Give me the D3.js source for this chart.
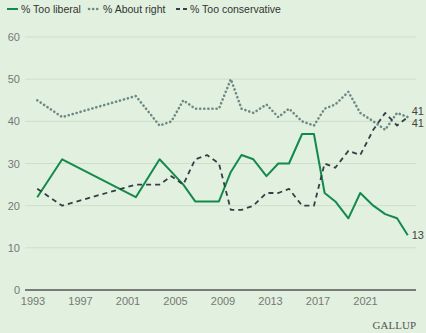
<!DOCTYPE html>
<html>
<head>
<meta charset="utf-8">
<script src="https://cdn.jsdelivr.net/npm/d3@7"></script>
<style>
  body { margin: 0; background: #e2f0df; }
  svg { display: block; font-family: "Liberation Sans", Arial, sans-serif; }
</style>
</head>
<body>
<div id="chart"></div>
<script>
// data (survey dates as decimal years)
var years = [1993.4, 1995.5, 2001.7, 2003.7, 2004.7, 2005.7, 2006.7, 2007.7, 2008.7, 2009.7,
    2010.6, 2011.6, 2012.7, 2013.7, 2014.6, 2015.7, 2016.7, 2017.6, 2018.5, 2019.6,
    2020.6, 2021.7, 2022.7, 2023.7, 2024.6];
var tooLiberal = [22, 31, 22, 31, 28, 25, 21, 21, 21, 28, 32, 31, 27, 30, 30, 37, 37, 23, 21, 17, 23, 20, 18, 17, 13];
var aboutRight = [45, 41, 46, 39, 40, 45, 43, 43, 43, 50, 43, 42, 44, 41, 43, 40, 39, 43, 44, 47, 42, 40, 38, 42, 41];
var tooConservative = [24, 20, 25, 25, 27, 25, 31, 32, 30, 19, 19, 20, 23, 23, 24, 20, 20, 30, 29, 33, 32, 38, 42, 39, 41];
var yTicks = [0, 10, 20, 30, 40, 50, 60];
var xTicks = [1993, 1997, 2001, 2005, 2009, 2013, 2017, 2021];

var svgWidth = 426;
var svgHeight = 333;

var margin = { top: 37, right: 10, bottom: 43, left: 25 };
var gridRight = 416;

var svg = d3.select("#chart")
    .append("svg")
    .attr("width", svgWidth)
    .attr("height", svgHeight);

svg.append("rect")
    .attr("width", svgWidth)
    .attr("height", svgHeight)
    .attr("fill", "#e2f0df");

// scales
var xScale = d3.scaleLinear()
    .domain([1993, 2021])
    .range([32.5, 365]);

var yScale = d3.scaleLinear()
    .domain([0, 60])
    .range([290, 37]);

// gridlines + y labels
svg.append("g")
    .selectAll("line")
    .data(yTicks.filter(d => d > 0))
    .enter()
    .append("line")
    .attr("x1", margin.left)
    .attr("x2", gridRight)
    .attr("y1", d => yScale(d))
    .attr("y2", d => yScale(d))
    .attr("stroke", "#cddfca")
    .attr("stroke-width", 1);

svg.append("g")
    .selectAll("text")
    .data(yTicks)
    .enter()
    .append("text")
    .attr("x", 20)
    .attr("y", d => yScale(d) + 4)
    .attr("text-anchor", "end")
    .attr("fill", "#777")
    .attr("font-size", "11px")
    .text(d => d);

// x axis
var bottomAxis = d3.axisBottom(xScale)
    .tickValues(xTicks)
    .tickFormat(d3.format("d"))
    .tickSize(0)
    .tickPadding(7);

var xAxis = svg.append("g")
    .attr("transform", `translate(0, ${yScale(0)})`)
    .call(bottomAxis);
xAxis.select(".domain").remove();
xAxis.selectAll("text")
    .attr("fill", "#777")
    .attr("font-size", "11px")
    .attr("font-family", "Liberation Sans, Arial, sans-serif");

svg.append("line")
    .attr("x1", margin.left)
    .attr("x2", gridRight)
    .attr("y1", yScale(0))
    .attr("y2", yScale(0))
    .attr("stroke", "#555")
    .attr("stroke-width", 1.6);

// lines
var series = [
    { name: "% Too liberal", values: tooLiberal, color: "#138a4c", width: 2, dash: null, cap: "butt" },
    { name: "% About right", values: aboutRight, color: "#6d8985", width: 2.6, dash: "0.1 4", cap: "round" },
    { name: "% Too conservative", values: tooConservative, color: "#333e46", width: 1.8, dash: "5 4", cap: "butt" }
];

var line = d3.line()
    .x(d => xScale(d[0]))
    .y(d => yScale(d[1]));

series.forEach(function (s) {
    svg.append("path")
        .datum(years.map((y, i) => [y, s.values[i]]))
        .attr("d", line)
        .attr("fill", "none")
        .attr("stroke", s.color)
        .attr("stroke-width", s.width)
        .attr("stroke-dasharray", s.dash)
        .attr("stroke-linecap", s.cap)
        .attr("stroke-linejoin", "round");
});

// end labels
var last = years.length - 1;
var endLabels = [
    { v: aboutRight[last], dy: -6 },
    { v: tooConservative[last], dy: 6 },
    { v: tooLiberal[last], dy: 0 }
];
svg.append("g")
    .selectAll("text")
    .data(endLabels)
    .enter()
    .append("text")
    .attr("x", xScale(years[last]) + 4)
    .attr("y", d => yScale(d.v) + d.dy + 4)
    .attr("fill", "#444")
    .attr("font-size", "11px")
    .text(d => d.v);

// legend
var legendX = [7, 89, 176];
var legend = svg.append("g");
series.forEach(function (s, i) {
    legend.append("line")
        .attr("x1", legendX[i])
        .attr("x2", legendX[i] + 11)
        .attr("y1", 9)
        .attr("y2", 9)
        .attr("stroke", s.color)
        .attr("stroke-width", s.width)
        .attr("stroke-dasharray", s.dash ? (i == 1 ? "0.1 4" : "4 3") : null)
        .attr("stroke-linecap", s.cap);
    legend.append("text")
        .attr("x", legendX[i] + 14)
        .attr("y", 12.5)
        .attr("fill", "#333")
        .attr("font-size", "10.5px")
        .text(s.name);
});

// source
svg.append("text")
    .attr("x", 416)
    .attr("y", 329)
    .attr("text-anchor", "end")
    .attr("fill", "#555")
    .attr("font-family", "Liberation Serif, Times New Roman, serif")
    .attr("font-size", "11px")
    .text("GALLUP");
</script>
</body>
</html>
